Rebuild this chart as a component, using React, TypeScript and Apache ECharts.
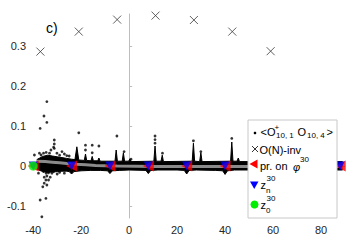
import React, { useEffect, useRef } from "react";
import * as echarts from "echarts";

const xTicks = [-40, -20, 0, 20, 40, 60, 80];
const yTicks = [-0.1, 0, 0.1, 0.2, 0.3];

// O(N)-invariant values (crosses)
const onInvX = [-37, -21, -5, 11, 27, 43, 59];
const onInvY = [0.286, 0.336, 0.366, 0.376, 0.365, 0.336, 0.287];

// projection points (red) and z_n (blue), all at 0
const projX = [-40, -24, -8, 8, 24, 40, 56, 72, 88];
const projY = [0, 0, 0, 0, 0, 0, 0, 0, 0];
const znX = [-40, -24, -8, 8, 24, 40, 56, 72, 88];
const znY = [0, 0, 0, 0, 0, 0, 0, 0, 0];
const z0X = [-40];
const z0Y = [0];

// dense band of correlator samples: upper and lower envelope
const bandUpper: [number, number][] = [
  [-38.5, 0.016], [-36, 0.024], [-34, 0.027], [-32, 0.025], [-30, 0.023], [-28, 0.021],
  [-26, 0.019], [-24, 0.017], [-22.6, 0.016], [-21.8, 0.048], [-21.0, 0.015], [-18.7, 0.014],
  [-18.2, 0.03], [-17.7, 0.014], [-15.9, 0.013], [-15.4, 0.024], [-14.9, 0.013], [-13.1, 0.013],
  [-12.6, 0.02], [-12.1, 0.012], [-5.9, 0.012], [-5.4, 0.04], [-4.9, 0.012], [-2.9, 0.012],
  [-2.4, 0.033], [-1.9, 0.012], [-0.2, 0.012], [0.3, 0.018], [0.8, 0.011], [10.3, 0.012],
  [10.8, 0.05], [11.3, 0.012], [13.3, 0.012], [13.8, 0.027], [14.3, 0.011], [26.3, 0.012],
  [26.8, 0.057], [27.3, 0.012], [29.4, 0.011], [29.9, 0.033], [30.4, 0.011], [42.3, 0.012],
  [42.8, 0.06], [43.3, 0.012], [45.0, 0.012], [45.5, 0.02], [46.0, 0.011], [56, 0.011],
  [72, 0.011], [89, 0.011],
];
const bandLower: [number, number][] = [
  [-38.5, -0.008], [-36, -0.014], [-34, -0.016], [-32, -0.015], [-30, -0.014], [-28, -0.013],
  [-26, -0.013], [-25, -0.014], [-24, -0.02], [-23, -0.014], [-20, -0.012], [-16, -0.011],
  [-12, -0.011], [-9, -0.012], [-8, -0.019], [-7, -0.012], [-4, -0.011], [0, -0.01],
  [7, -0.011], [8, -0.019], [9, -0.011], [12, -0.01], [20, -0.01], [23, -0.011], [24, -0.02],
  [25, -0.011], [28, -0.01], [36, -0.011], [39, -0.012], [40, -0.021], [41, -0.012],
  [44, -0.01], [56, -0.01], [72, -0.01], [89, -0.01],
];

// mean curve (grey)
const meanX = [-38.5, -35, -32, -29, -26, -22, -18, -14, -10, -5, 10, 40, 89];
const meanY = [0.012, 0.011, 0.0095, 0.008, 0.0063, 0.0045, 0.003, 0.0015, 0.0005, 0, -0.001, -0.001, -0.001];

// isolated samples
const outliers: [number, number][] = [
  [-34.3, 0.161], [-35.5, 0.125], [-34.3, 0.109], [-37.1, 0.094], [-31.2, 0.065],
  [-31.2, 0.055], [-31.5, 0.047], [-36.7, 0.0275], [-35.7, 0.032], [-34.6, 0.034],
  [-33.2, 0.032], [-32.6, 0.04], [-31.2, 0.044], [-30.1, 0.032], [-29, 0.027],
  [-28, 0.036], [-39.5, 0.0275], [-37.4, 0.032], [-27, 0.03], [-26, 0.026], [-25, 0.025],
  [-35.7, -0.014], [-34.6, -0.018], [-33.6, -0.017], [-35.4, -0.028], [-34.3, -0.025],
  [-34.7, -0.035], [-33.6, -0.035], [-35.4, -0.043], [-34.3, -0.0475], [-36, -0.052],
  [-32.9, -0.028], [-32.2, -0.018], [-31.5, -0.014], [-37.1, -0.085], [-34.7, -0.081],
  [-36.4, -0.127], [-37.8, -0.018], [-30, -0.02], [-29, -0.016], [-27, -0.018],
  [-21, 0.083], [-18.2, 0.052], [-18.2, 0.04], [-15.4, 0.052], [-15.4, 0.033],
  [-12.6, 0.05], [-5.1, 0.075], [-2.1, 0.036], [0.8, 0.017], [10.8, 0.075],
  [10.8, 0.066], [10.8, 0.057], [13.9, 0.032], [26.8, 0.063], [29.9, 0.036],
  [42.8, 0.069],
];

const FONT = '"Liberation Sans", Arial, Helvetica, sans-serif';

function txt(text: string, x: number, y: number, size: number, extra: any = {}) {
  return {
    type: "text",
    z: 101,
    style: { text, x, y, fill: "#000", fontSize: size, fontFamily: FONT, verticalAlign: "middle", ...extra },
  };
}

export default function App() {
  const ref = useRef<HTMLDivElement>(null);
  useEffect(() => {
    if (!ref.current) return;
    const chart = echarts.init(ref.current, undefined, { renderer: "svg" });
    const axisGray = "#bdbdbd";
    const option: any = {
      animation: false,
      grid: { left: 32, right: 4, top: 14, bottom: 29, containLabel: false },
      xAxis: {
        type: "value",
        min: -40.5,
        max: 90,
        axisLine: { show: true, lineStyle: { color: axisGray, width: 1 } },
        axisTick: { show: true, inside: true, length: 3, customValues: xTicks, lineStyle: { color: axisGray } },
        axisLabel: { customValues: xTicks, color: "#262626", fontSize: 11, fontFamily: FONT, margin: 6 },
        splitLine: { show: false },
      },
      yAxis: {
        type: "value",
        min: -0.13,
        max: 0.38,
        axisLine: { show: true, lineStyle: { color: axisGray, width: 1 } },
        axisTick: { show: true, inside: true, length: 3, customValues: yTicks, lineStyle: { color: axisGray } },
        axisLabel: {
          customValues: yTicks,
          color: "#262626",
          fontSize: 11,
          fontFamily: FONT,
          margin: 6,
          formatter: (v: number) => (v === 0 ? "0" : String(v)),
        },
        splitLine: { show: false },
      },
      series: [
        {
          type: "line",
          data: bandUpper,
          symbol: "none",
          lineStyle: { color: "#000", width: 1 },
          areaStyle: { color: "#000", opacity: 1, origin: "auto" },
          z: 2,
        },
        {
          type: "line",
          data: bandLower,
          symbol: "none",
          lineStyle: { color: "#000", width: 1 },
          areaStyle: { color: "#000", opacity: 1, origin: "auto" },
          z: 2,
        },
        {
          type: "scatter",
          data: outliers,
          symbol: "circle",
          symbolSize: 2.8,
          itemStyle: { color: "#000" },
          z: 3,
        },
        {
          type: "line",
          data: meanX.map((x, i) => [x, meanY[i]]),
          symbol: "none",
          lineStyle: { color: "#8a8a8a", width: 3 },
          z: 4,
        },
        {
          type: "scatter",
          data: onInvX.map((x, i) => [x, onInvY[i]]),
          symbol: "path://M0,0L10,10M10,0L0,10",
          symbolSize: 8,
          itemStyle: { color: "none", borderColor: "#3a3a3a", borderWidth: 1 },
          z: 5,
        },
        {
          type: "scatter",
          data: projX.map((x, i) => [x, projY[i]]),
          symbol: "triangle",
          symbolRotate: 90,
          symbolSize: 11,
          clip: false,
          itemStyle: { color: "#ff0000" },
          z: 6,
        },
        {
          type: "scatter",
          data: znX.map((x, i) => [x, znY[i]]),
          symbol: "triangle",
          symbolRotate: 180,
          symbolSize: 9,
          clip: false,
          itemStyle: { color: "#0000ff" },
          z: 7,
        },
        {
          type: "scatter",
          data: z0X.map((x, i) => [x, z0Y[i]]),
          symbol: "circle",
          symbolSize: 9,
          clip: false,
          itemStyle: { color: "#00ee00" },
          z: 8,
        },
      ],
      graphic: [
        txt("c)", 46, 28, 14),
        {
          type: "rect",
          z: 100,
          shape: { x: 248, y: 120, width: 89, height: 98 },
          style: { fill: "#fff", stroke: "#c8c8c8", lineWidth: 1 },
        },
        { type: "circle", z: 101, shape: { cx: 255, cy: 133, r: 1.3 }, style: { fill: "#000" } },
        txt("<O", 260.5, 132, 11),
        txt("+", 274.5, 127, 8),
        txt("10, 1", 276, 135.5, 8),
        txt("O", 297.5, 132, 11),
        txt("10, 4", 307, 135.5, 8),
        txt(">", 326.5, 132, 11),
        { type: "line", z: 101, shape: { x1: 252, y1: 146, x2: 258, y2: 152 }, style: { stroke: "#333", lineWidth: 1 } },
        { type: "line", z: 101, shape: { x1: 252, y1: 152, x2: 258, y2: 146 }, style: { stroke: "#333", lineWidth: 1 } },
        txt("O(N)-inv", 259.5, 149.5, 11),
        {
          type: "polygon",
          z: 101,
          shape: { points: [[249.5, 164], [257.5, 159.5], [257.5, 168.5]] },
          style: { fill: "#ff0000" },
        },
        txt("pr. on", 260, 165.5, 11),
        txt("φ", 293, 167, 11, { fontStyle: "italic" }),
        txt("30", 300, 159.5, 8),
        {
          type: "polygon",
          z: 101,
          shape: { points: [[250, 181.5], [258.5, 181.5], [254.25, 189]] },
          style: { fill: "#0000ff" },
        },
        txt("z", 260.5, 185, 11),
        txt("30", 266.5, 178.5, 8),
        txt("n", 266, 190, 8),
        { type: "circle", z: 101, shape: { cx: 254.5, cy: 204.5, r: 4 }, style: { fill: "#00ee00" } },
        txt("z", 260.5, 205, 11),
        txt("30", 266.5, 198, 8),
        txt("0", 266, 210, 8),
      ],
    };
    chart.setOption(option);
    return () => chart.dispose();
  }, []);
  return (
    <div
      ref={ref}
      style={{ position: "absolute", left: 0, top: 0, width: 349, height: 247, background: "#fff" }}
    />
  );
}
